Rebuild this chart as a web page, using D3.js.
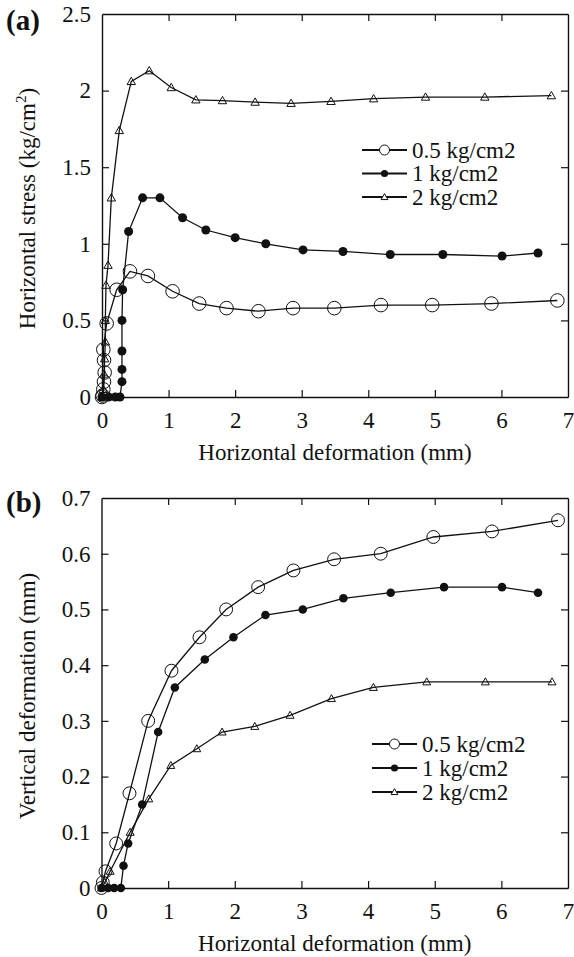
<!DOCTYPE html>
<html>
<head>
<meta charset="utf-8">
<script src="https://cdn.jsdelivr.net/npm/d3@7"></script>
<style>
  body { margin: 0; background: #fff; }
  svg text { font-family: "Liberation Serif", "Times New Roman", serif; fill: #111; }
</style>
</head>
<body>
<div id="chart"></div>
<script>
var seriesNames = ["0.5 kg/cm2", "1 kg/cm2", "2 kg/cm2"];
var markerTypes = ["open", "filled", "triangle"];

// panel (a): horizontal deformation vs horizontal stress
var stressHalf = [[0,0],[0.01,0.01],[0.02,0.05],[0.03,0.10],[0.04,0.16],[0.03,0.24],[0.02,0.31],[0.07,0.48],[0.22,0.70],[0.42,0.82],[0.69,0.79],[1.06,0.69],[1.46,0.61],[1.87,0.58],[2.35,0.56],[2.87,0.58],[3.49,0.58],[4.19,0.60],[4.96,0.60],[5.85,0.61],[6.84,0.63]];
var stressOne = [[0,0],[0.1,0],[0.2,0],[0.27,0],[0.3,0.10],[0.3,0.18],[0.3,0.30],[0.3,0.50],[0.31,0.70],[0.4,1.08],[0.61,1.30],[0.87,1.30],[1.21,1.17],[1.56,1.09],[2.0,1.04],[2.46,1.0],[3.02,0.96],[3.62,0.95],[4.33,0.93],[5.12,0.93],[6.01,0.92],[6.55,0.94]];
var stressTwo = [[0,0],[0.02,0.05],[0.03,0.15],[0.04,0.25],[0.05,0.36],[0.05,0.50],[0.06,0.73],[0.09,0.86],[0.14,1.30],[0.26,1.74],[0.44,2.06],[0.71,2.13],[1.04,2.02],[1.41,1.94],[1.81,1.935],[2.30,1.925],[2.84,1.917],[3.44,1.93],[4.08,1.947],[4.86,1.958],[5.75,1.958],[6.75,1.967]];

// panel (b): horizontal deformation vs vertical deformation
var vertHalf = [[0,0],[0.02,0.01],[0.06,0.03],[0.22,0.08],[0.42,0.17],[0.70,0.30],[1.05,0.39],[1.47,0.45],[1.87,0.50],[2.35,0.54],[2.88,0.57],[3.49,0.59],[4.19,0.60],[4.98,0.63],[5.86,0.64],[6.85,0.66]];
var vertOne = [[0,0],[0.1,0],[0.19,0],[0.29,0],[0.33,0.04],[0.40,0.08],[0.61,0.15],[0.85,0.28],[1.10,0.36],[1.55,0.41],[1.98,0.45],[2.46,0.49],[3.02,0.50],[3.63,0.52],[4.34,0.53],[5.14,0.54],[6.01,0.54],[6.55,0.53]];
var vertTwo = [[0,0],[0.05,0.01],[0.13,0.03],[0.43,0.10],[0.71,0.16],[1.04,0.22],[1.43,0.25],[1.81,0.28],[2.30,0.29],[2.83,0.31],[3.45,0.34],[4.08,0.36],[4.88,0.37],[5.76,0.37],[6.76,0.37]];

var xTicks = [0, 1, 2, 3, 4, 5, 6, 7];
var stressTicks = [0, 0.5, 1, 1.5, 2, 2.5];
var vertTicks = [0, 0.1, 0.2, 0.3, 0.4, 0.5, 0.6, 0.7];

var width = 574, height = 957;
var svg = d3.select("#chart").append("svg")
    .attr("width", width)
    .attr("height", height);

function drawMarker(g, type, x, y, s) {
    if (type == "open") {
        g.append("circle").attr("cx", x).attr("cy", y).attr("r", 6.8 * s)
            .attr("fill", "none").attr("stroke", "#111").attr("stroke-width", 1);
    } else if (type == "filled") {
        g.append("circle").attr("cx", x).attr("cy", y).attr("r", 4.5 * s)
            .attr("fill", "#111");
    } else {
        var h = 4.2 * s;
        g.append("path")
            .attr("d", "M" + x + "," + (y - h) + "L" + (x + h) + "," + (y + h * 0.75) + "L" + (x - h) + "," + (y + h * 0.75) + "Z")
            .attr("fill", "none").attr("stroke", "#111").attr("stroke-width", 1);
    }
}

function panel(opt) {
    var left = opt.left, right = opt.right, top = opt.top, bottom = opt.bottom;
    var x = d3.scaleLinear().domain([0, 7]).range([left, right]);
    var y = d3.scaleLinear().domain([0, opt.ymax]).range([bottom, top]);
    var g = svg.append("g");

    var fmt = function(d) { return d3.format("")(d); };

    // bottom axis with labels, inward ticks
    var xb = g.append("g").attr("transform", "translate(0," + bottom + ")")
        .call(d3.axisBottom(x).tickValues(xTicks).tickSize(-7).tickSizeOuter(0).tickPadding(15).tickFormat(fmt));
    // top axis, no labels
    var xt = g.append("g").attr("transform", "translate(0," + top + ")")
        .call(d3.axisTop(x).tickValues(xTicks.slice(1, -1)).tickSize(-7).tickSizeOuter(0).tickFormat(""));
    var yl = g.append("g").attr("transform", "translate(" + left + ",0)")
        .call(d3.axisLeft(y).tickValues(opt.yTicks).tickSize(-7).tickSizeOuter(0).tickPadding(11).tickFormat(fmt));
    var yr = g.append("g").attr("transform", "translate(" + right + ",0)")
        .call(d3.axisRight(y).tickValues(opt.yTicks.slice(1, -1)).tickSize(-7).tickSizeOuter(0).tickFormat(""));

    g.selectAll(".domain").attr("stroke", "#111").attr("stroke-width", 1.4);
    g.selectAll(".tick line").attr("stroke", "#111").attr("stroke-width", 1.2);
    g.selectAll(".tick text").attr("font-size", "23px").attr("fill", "#111")
        .style("font-family", "'Liberation Serif', 'Times New Roman', serif");
    xb.selectAll(".tick line").filter(function(d) { return d == 0 || d == 7; }).remove();
    yl.selectAll(".tick line").filter(function(d, i) { return i == 0 || i == opt.yTicks.length - 1; }).remove();

    var line = d3.line().x(function(d) { return x(d[0]); }).y(function(d) { return y(d[1]); });
    var series = opt.series;
    series.forEach(function(s, i) {
        g.append("path").datum(s)
            .attr("d", line)
            .attr("fill", "none")
            .attr("stroke", "#111")
            .attr("stroke-width", 1.3);
    });
    series.forEach(function(s, i) {
        s.forEach(function(d) {
            drawMarker(g, markerTypes[i], x(d[0]), y(d[1]), opt.markerScale);
        });
    });

    // legend
    seriesNames.forEach(function(name, i) {
        var ly = opt.legendY[i];
        g.append("line").attr("x1", opt.legendX).attr("x2", opt.legendX + 45)
            .attr("y1", ly).attr("y2", ly).attr("stroke", "#111").attr("stroke-width", 2);
        var m = g.append("g");
        if (markerTypes[i] == "open") {
            m.append("circle").attr("cx", opt.legendX + 22.5).attr("cy", ly).attr("r", 5)
                .attr("fill", "#fff").attr("stroke", "#111").attr("stroke-width", 1);
        } else if (markerTypes[i] == "filled") {
            m.append("circle").attr("cx", opt.legendX + 22.5).attr("cy", ly).attr("r", 3.6).attr("fill", "#111");
        } else {
            var cx = opt.legendX + 22.5, h = 3.4;
            m.append("path").attr("d", "M" + cx + "," + (ly - h) + "L" + (cx + h) + "," + (ly + h * 0.75) + "L" + (cx - h) + "," + (ly + h * 0.75) + "Z")
                .attr("fill", "#fff").attr("stroke", "#111").attr("stroke-width", 1);
        }
        g.append("text").attr("x", opt.legendX + 50).attr("y", ly).attr("dy", "0.33em")
            .attr("font-size", "23px").text(name);
    });

    // axis titles
    g.append("text").attr("x", (left + right) / 2).attr("y", bottom + 63)
        .attr("text-anchor", "middle").attr("font-size", "23px")
        .text("Horizontal deformation (mm)");
    var yt = g.append("text")
        .attr("transform", "translate(35," + ((top + bottom) / 2 + 3) + ") rotate(-90)")
        .attr("text-anchor", "middle").attr("font-size", "23px");
    opt.ylabel(yt);

    g.append("text").attr("x", 6).attr("y", opt.tagY)
        .attr("font-size", "29px").attr("font-weight", "bold").text(opt.tag);
}

panel({
    left: 102, right: 568, top: 14, bottom: 397,
    ymax: 2.5, yTicks: stressTicks,
    series: [stressHalf, stressOne, stressTwo],
    markerScale: 1,
    legendX: 362, legendY: [150, 173.5, 197],
    tag: "(a)", tagY: 30,
    ylabel: function(t) {
        t.append("tspan").text("Horizontal stress (kg/cm");
        t.append("tspan").attr("font-size", "15px").attr("dy", "-9").text("2");
        t.append("tspan").attr("dy", "9").text(")");
    }
});

panel({
    left: 101.5, right: 568, top: 498, bottom: 888,
    ymax: 0.7, yTicks: vertTicks,
    series: [vertHalf, vertOne, vertTwo],
    markerScale: 0.95,
    legendX: 372, legendY: [744, 768, 792],
    tag: "(b)", tagY: 512,
    ylabel: function(t) {
        t.text("Vertical deformation (mm)");
    }
});
</script>
</body>
</html>
